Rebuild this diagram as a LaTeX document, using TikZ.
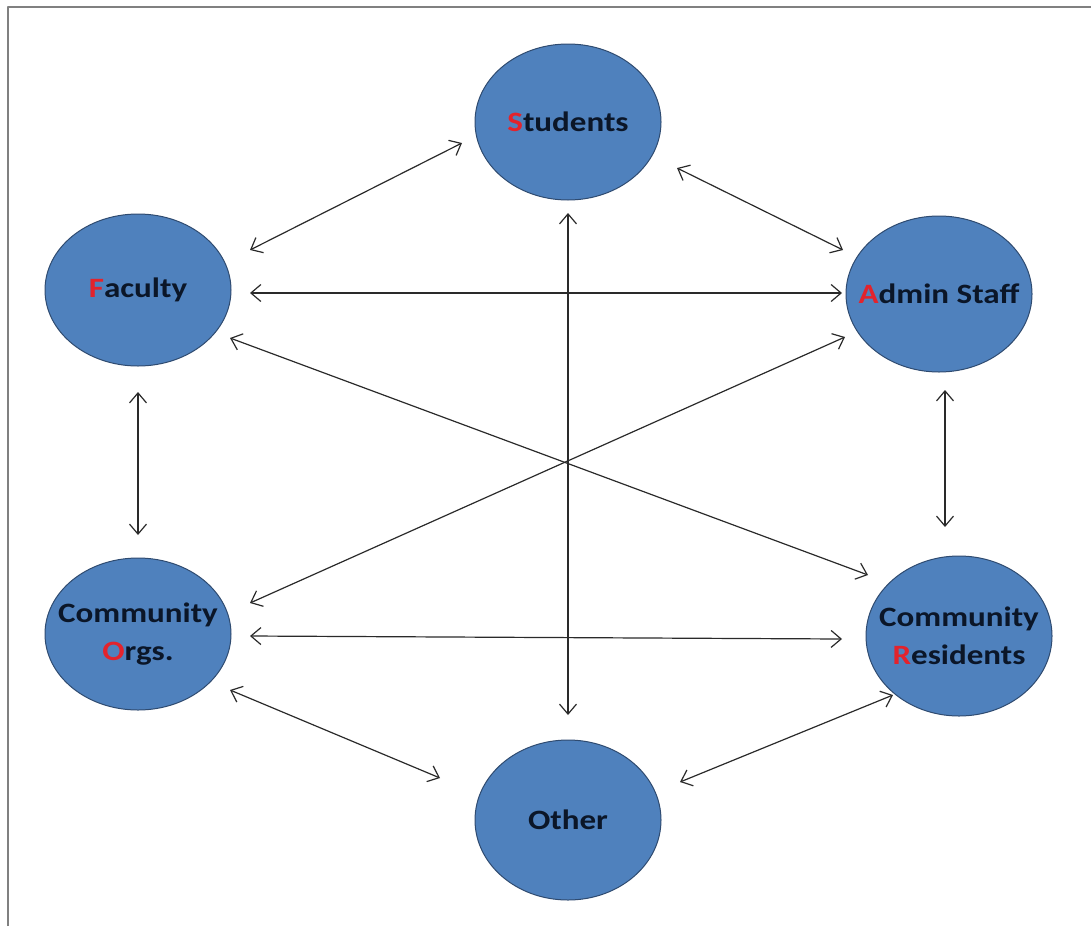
\documentclass[tikz,border=0pt]{standalone}
\usepackage{fontspec}
\setmainfont{Carlito}
\usepackage{xcolor}
\usepackage{tikz}
\usetikzlibrary{arrows.meta,shapes.geometric}

\definecolor{nodeblue}{HTML}{4F81BD}
\definecolor{nodeedge}{HTML}{2F4B70}
\definecolor{txtnavy}{HTML}{0B1628}
\definecolor{initred}{HTML}{E3232C}
\definecolor{framegray}{HTML}{808080}
\definecolor{linkgray}{HTML}{2A2A2A}
\newcommand{\wide}[1]{\scalebox{1.18}[1]{#1}}
\newcommand{\ini}[1]{\textcolor{initred}{#1}}

\begin{document}
\begin{tikzpicture}[x=1pt,y=-1pt,>={Straight Barb[length=10pt,width=17pt]},line join=round,
  group/.style={ellipse,fill=nodeblue,draw=nodeedge,line width=1pt,minimum width=186pt,
    minimum height=156pt,inner sep=0pt},
  tag/.style={align=center,text=txtnavy,inner sep=0pt,
    font=\fontsize{28}{38}\selectfont\bfseries},
  link/.style={<->,linkgray,line width=1.2pt}]
  \useasboundingbox (0,0) rectangle (1091,926);
  \draw[framegray,line width=2.2pt] (8,926) -- (8,7) -- (1091,7);
  % groups
  \node[group,label={[tag]center:{\wide{\ini{S}tudents}}}] (STU) at (568,122) {};
  \node[group,minimum height=152pt,label={[tag]center:{\wide{\ini{F}aculty}}}] (FAC) at (138,290) {};
  \node[group,label={[tag]center:{\wide{\ini{A}dmin Staff}}}] (ADM) at (939,294) {};
  \node[group,minimum height=152pt,label={[tag]center:{\wide{Community}\\\wide{\ini{O}rgs.}}}] (ORG) at (138,634) {};
  \node[group,minimum height=160pt,label={[tag]center:{\wide{Community}\\\wide{\ini{R}esidents}}}] (RES) at (959,636) {};
  \node[group,minimum height=160pt,label={[tag]center:{\wide{Other}}}] (OTH) at (568,820) {};
  % arrow ends
  \coordinate (SF1) at (462,143);
  \coordinate (SF2) at (250,250);
  \coordinate (SA1) at (677,168);
  \coordinate (SA2) at (843,250);
  \coordinate (FA1) at (250,293);
  \coordinate (FA2) at (842,293);
  \coordinate (SO1) at (568,213);
  \coordinate (SO2) at (568,715);
  \coordinate (FR1) at (230,338);
  \coordinate (FR2) at (868,575);
  \coordinate (AO1) at (845,337);
  \coordinate (AO2) at (250,603);
  \coordinate (FO1) at (138,392);
  \coordinate (FO2) at (138,535);
  \coordinate (AR1) at (945,390);
  \coordinate (AR2) at (945,527);
  \coordinate (OR1) at (250,636);
  \coordinate (OR2) at (842,639);
  \coordinate (OT1) at (230,690);
  \coordinate (OT2) at (440,778);
  \coordinate (RT1) at (893,695);
  \coordinate (RT2) at (680,782);
  \draw[link] (SF1) -- (SF2);
  \draw[link] (SA1) -- (SA2);
  \draw[link] (FA1) -- (FA2);
  \draw[link] (SO1) -- (SO2);
  \draw[link] (FR1) -- (FR2);
  \draw[link] (AO1) -- (AO2);
  \draw[link] (FO1) -- (FO2);
  \draw[link] (AR1) -- (AR2);
  \draw[link] (OR1) -- (OR2);
  \draw[link] (OT1) -- (OT2);
  \draw[link] (RT1) -- (RT2);
\end{tikzpicture}
\end{document}
